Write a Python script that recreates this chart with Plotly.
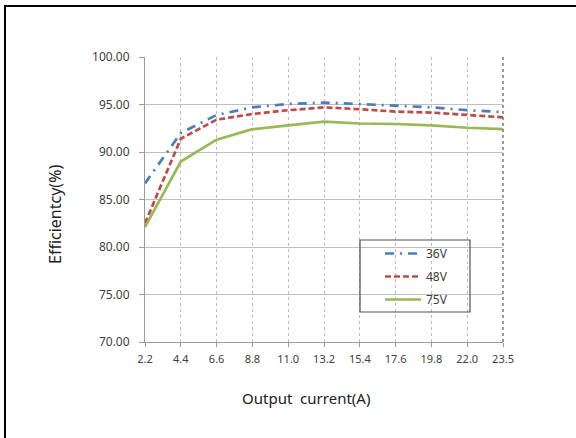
import plotly.graph_objects as go

currents = ["2.2", "4.4", "6.6", "8.8", "11.0", "13.2", "15.4", "17.6", "19.8", "22.0", "23.5"]
eff_36v = [86.7, 92.0, 93.9, 94.7, 95.05, 95.2, 95.05, 94.85, 94.7, 94.4, 94.2]
eff_48v = [82.5, 91.4, 93.4, 94.0, 94.4, 94.7, 94.5, 94.25, 94.15, 93.9, 93.65]
eff_75v = [82.1, 89.0, 91.3, 92.4, 92.8, 93.2, 93.0, 92.95, 92.8, 92.55, 92.4]
y_ticks = [70, 75, 80, 85, 90, 95, 100]

W, H = 576, 438
L, T = 145, 57
pw, ph = 358, 285
R, B = W - L - pw, H - T - ph

def px_x(p):
    return (p - L) / pw

def px_y(p):
    return (T + ph - p) / ph

fig = go.Figure()
series = [
    ("36V", eff_36v, "#4a7ebb", "9px,6px,2px,6px"),
    ("48V", eff_48v, "#be4b48", "6px,3px"),
    ("75V", eff_75v, "#98b954", "solid"),
]
for name, vals, col, dash in series:
    fig.add_trace(go.Scatter(
        x=currents, y=vals, name=name, mode="lines",
        line=dict(color=col, width=2.7, dash=dash),
        legendgroup=name,
    ))

fig.update_layout(
    width=W, height=H,
    margin=dict(l=L, r=R, t=T, b=B),
    paper_bgcolor="white", plot_bgcolor="white",
    showlegend=True,
    legend=dict(
        x=px_x(380), y=px_y(239), xanchor="left", yanchor="top",
        bgcolor="rgba(0,0,0,0)", borderwidth=0,
        font=dict(family="Noto Sans", size=12, color="#404040"),
        tracegroupgap=4, itemwidth=36,
    ),
    xaxis=dict(
        type="category", range=[0, 10],
        showgrid=True, gridcolor="#bdbdbd", griddash="dot", gridwidth=1,
        showline=True, linecolor="#9a9a9a", linewidth=1,
        ticks="outside", ticklen=4, tickcolor="#9a9a9a",
        tickfont=dict(family="Noto Sans", size=11, color="#404040"),
        zeroline=False, ticklabelstandoff=3,
    ),
    yaxis=dict(
        range=[70, 100], tickvals=y_ticks, tickformat=".2f",
        showgrid=True, gridcolor="#bfbfbf", gridwidth=1.2,
        showline=True, linecolor="#9a9a9a", linewidth=1,
        ticks="outside", ticklen=5, tickcolor="#9a9a9a",
        tickfont=dict(family="Noto Sans", size=12, color="#404040"),
        zeroline=False, ticklabelstandoff=7,
    ),
)

# right plot border
fig.add_shape(type="line", xref="paper", yref="paper", x0=1, x1=1, y0=0, y1=1,
              line=dict(color="#7a7a7a", width=1.5, dash="dot"))
# legend box
fig.add_shape(type="rect", xref="paper", yref="paper",
              x0=px_x(360), x1=px_x(470), y0=px_y(312), y1=px_y(240),
              line=dict(color="#505050", width=1.2))
# outer frame
fig.add_shape(type="rect", xref="paper", yref="paper",
              x0=px_x(5), x1=px_x(620), y0=px_y(480), y1=px_y(6),
              line=dict(color="black", width=2))

fig.add_annotation(text="Efficientcy(%)", xref="paper", yref="paper",
                   x=px_x(55), y=px_y(215), textangle=-90, showarrow=False,
                   xanchor="center", yanchor="middle",
                   font=dict(family="Noto Sans", size=16, color="#222222"))
fig.add_annotation(text="Output&nbsp;&nbsp;current(A)", xref="paper", yref="paper",
                   x=px_x(306), y=px_y(398), showarrow=False,
                   xanchor="center", yanchor="middle",
                   font=dict(family="Noto Sans", size=15, color="#222222"))

fig.write_html(
    "out.html",
    config={"displayModeBar": False},
    post_script="document.body.style.margin='0';document.body.style.overflow='hidden';",
)
